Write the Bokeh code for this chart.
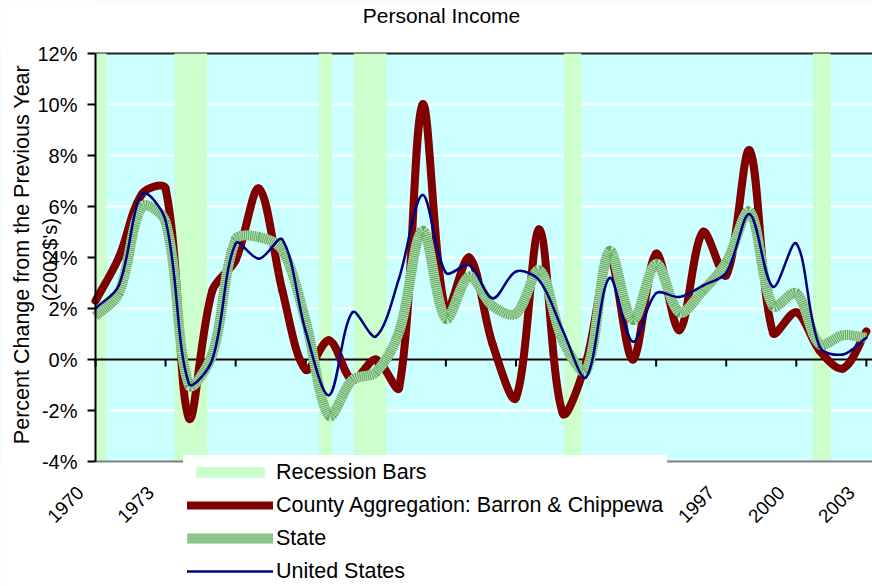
import numpy as np
from math import pi

from bokeh.plotting import figure
from bokeh.models import (ColumnDataSource, FixedTicker, Label, Legend,
                          LegendItem, PrintfTickFormatter, Range1d)
from bokeh.embed import file_html
from bokeh.resources import INLINE

# ---- data: annual percent change in personal income (2002 dollars) ----
years = list(range(1970, 2004))

county = [2.3, 4.0, 6.5, 6.7, -2.3, 2.7, 3.9, 6.7, 2.7, -0.4,
          0.75, -0.8, 0.0, -1.1, 10.0, 1.9, 4.0, 0.6, -1.5, 5.1,
          -2.1, -0.1, 4.0, 0.0, 4.15, 1.15, 5.0, 3.3, 8.2, 1.05,
          1.85, 0.35, -0.35, 1.1]

state = [1.7, 2.6, 6.0, 5.4, -1.0, 0.2, 4.7, 4.8, 4.3, 1.5,
         -2.2, -0.8, -0.5, 1.1, 5.05, 1.6, 3.25, 2.1, 1.8, 3.5,
         0.75, -0.45, 4.25, 1.55, 3.75, 1.85, 2.7, 3.8, 5.8, 2.1,
         2.6, 0.6, 0.95, 0.85]

united_states = [2.0, 2.9, 6.5, 5.45, -0.95, 0.0, 4.55, 3.95, 4.7, 1.1,
                 -1.4, 1.85, 0.9, 3.2, 6.45, 3.4, 3.7, 2.4, 3.45, 3.1,
                 1.15, -0.7, 3.2, 0.7, 2.6, 2.45, 2.9, 3.4, 5.7, 2.85,
                 4.55, 0.5, 0.2, 0.85]

recession_start = [1970.0, 1973.38, 1979.56, 1981.06, 1990.05, 2000.71]
recession_end = [1970.47, 1974.78, 1980.13, 1982.46, 1990.80, 2001.47]

y_ticks = [-4, -2, 0, 2, 4, 6, 8, 10, 12]
x_ticks = [1970, 1973, 1976, 1979, 1982, 1985, 1988, 1991, 1994, 1997, 2000, 2003]
x_tick_labels = ["1970", "1973", "1976", "1979", "1982", "1985",
                 "1988", "1991", "1994", "1997", "2000", "2003"]

# ---- canvas geometry (pixels) ----
W, H = 872, 586
LEFT, TOP, RIGHT, BOTTOM = 95, 53, 872, 461   # edges of the plot area
PPX = 23.36                                    # pixels per year
X0 = 1970.0
X1 = X0 + (RIGHT - LEFT) / PPX
Y0, Y1 = -4.0, 12.0
PPY = (BOTTOM - TOP) / (Y1 - Y0)               # pixels per percentage point


def dx(px):
    return X0 + (px - LEFT) / PPX


def dy(py):
    return Y1 - (py - TOP) / PPY


FONT = "Liberation Sans"

# the frame spans the whole canvas; the plot area is drawn inside it
p = figure(width=W, height=H, x_range=Range1d(dx(0), dx(W)),
           y_range=Range1d(dy(H), dy(0)), output_backend="svg",
           toolbar_location=None, min_border=0)
p.title.visible = False
p.outline_line_color = None
p.border_fill_color = "white"
p.background_fill_color = "#CCFFFF"

# y axis standing on the 1970 edge of the plot area
yax = p.yaxis[0]
yax.fixed_location = X0
yax.bounds = (Y0, Y1)
yax.ticker = FixedTicker(ticks=y_ticks)
yax.formatter = PrintfTickFormatter(format="%d%%")
yax.major_label_text_font = FONT
yax.major_label_text_font_size = "20px"
yax.major_label_text_color = "black"
yax.major_label_standoff = 10
yax.major_tick_out = 8
yax.major_tick_in = 0
yax.minor_tick_out = 0
yax.minor_tick_in = 0
yax.axis_line_width = 2
yax.axis_line_color = "black"
yax.major_tick_line_width = 2
yax.major_tick_line_color = "black"

# year labels hang off the bottom edge, set slightly left of each tick
LABEL_SHIFT = 15 / PPX
p.extra_x_ranges = {"labels": Range1d(dx(0) + LABEL_SHIFT, dx(W) + LABEL_SHIFT)}
xax = p.xaxis[0]
xax.x_range_name = "labels"
xax.fixed_location = Y0
xax.bounds = (X0 + LABEL_SHIFT, X1 + LABEL_SHIFT)
xax.ticker = FixedTicker(ticks=x_ticks)
xax.major_label_overrides = dict(zip(x_ticks, x_tick_labels))
xax.major_label_orientation = pi / 4
xax.major_label_text_font = FONT
xax.major_label_text_font_size = "19px"
xax.major_label_text_color = "black"
xax.major_label_standoff = 28
xax.major_tick_out = 0
xax.major_tick_in = 0
xax.minor_tick_out = 0
xax.minor_tick_in = 0
xax.axis_line_color = "#808080"
xax.axis_line_width = 2

p.xgrid.visible = False
p.ygrid.ticker = FixedTicker(ticks=y_ticks[1:-1])
p.ygrid.grid_line_color = "white"
p.ygrid.grid_line_width = 2

# white margins around the plot area
p.quad(left=[dx(0), dx(0), dx(0)], right=[dx(W), dx(W), X0],
       bottom=[Y1, dy(H), dy(H)], top=[dy(0), Y0, dy(0)],
       fill_color="white", line_color=None)

# top edge of the plot area, beneath the recession shading
p.segment(x0=[X0], y0=[Y1], x1=[X1], y1=[Y1], line_color="#222222", line_width=2)

# recession shading
bars = p.quad(left=recession_start, right=recession_end, bottom=Y0, top=Y1,
              fill_color="#CCFFCC", line_color=None)

# zero line with its tick marks
p.segment(x0=[X0], y0=[0], x1=[X1], y1=[0], line_color="black", line_width=2)
p.segment(x0=x_ticks, y0=[0] * len(x_ticks), x1=x_ticks,
          y1=[-7 / PPY] * len(x_ticks), line_color="black", line_width=2)


def smooth_source(xs, ys, tension=1 / 3):
    """Cubic Bezier pieces through consecutive points; the handles follow the
    neighbour-to-neighbour direction, scaled by the adjacent segment lengths
    measured on screen."""
    x = np.asarray(xs, float) * PPX
    y = np.asarray(ys, float) * PPY
    xp = np.concatenate([[x[0]], x, [x[-1]]])
    yp = np.concatenate([[y[0]], y, [y[-1]]])
    tx = xp[2:] - xp[:-2]
    ty = yp[2:] - yp[:-2]
    seg = np.hypot(np.diff(x), np.diff(y))
    d_prev = np.concatenate([[0.0], seg])
    d_next = np.concatenate([seg, [0.0]])
    tot = d_prev + d_next
    f_in = tension * d_prev / tot
    f_out = tension * d_next / tot
    out_x, out_y = x + f_out * tx, y + f_out * ty
    in_x, in_y = x - f_in * tx, y - f_in * ty
    return ColumnDataSource(dict(
        x0=x[:-1] / PPX, y0=y[:-1] / PPY, x1=x[1:] / PPX, y1=y[1:] / PPY,
        cx0=out_x[:-1] / PPX, cy0=out_y[:-1] / PPY,
        cx1=in_x[1:] / PPX, cy1=in_y[1:] / PPY,
    ))


def curve(src, color, width, cap, dash="solid"):
    return p.bezier(x0="x0", y0="y0", x1="x1", y1="y1",
                    cx0="cx0", cy0="cy0", cx1="cx1", cy1="cy1",
                    source=src, line_color=color, line_width=width,
                    line_cap=cap, line_dash=dash)


county_r = curve(smooth_source(years, county), "#800000", 8, "round")
state_src = smooth_source(years, state)
state_base = curve(state_src, "#B9E2B9", 10, "butt")
state_dots = curve(state_src, "#5FA85F", 10, "butt", dash="1 1")
us_r = curve(smooth_source(years, united_states), "#000080", 2.5, "round")

# title and axis titles
p.add_layout(Label(x=dx(441), y=dy(15), text="Personal Income",
                   text_align="center", text_baseline="middle",
                   text_font=FONT, text_font_size="21px", text_color="black"))
p.add_layout(Label(x=dx(21.5), y=dy(254), text="Percent Change from the Previous Year",
                   angle=pi / 2, text_align="center", text_baseline="middle",
                   text_font=FONT, text_font_size="21.5px", text_color="black"))
p.add_layout(Label(x=dx(49), y=dy(259), text="(2002$'s)",
                   angle=pi / 2, text_align="center", text_baseline="middle",
                   text_font=FONT, text_font_size="20px", text_color="black"))

legend = Legend(items=[
    LegendItem(label="Recession Bars", renderers=[bars]),
    LegendItem(label="County Aggregation: Barron & Chippewa", renderers=[county_r]),
    LegendItem(label="State", renderers=[state_base, state_dots]),
    LegendItem(label="United States", renderers=[us_r]),
], location=(183, -2), background_fill_color="white", background_fill_alpha=1.0,
    border_line_alpha=0, label_text_font=FONT, label_text_font_size="21.5px",
    label_text_color="black", glyph_width=86, glyph_height=14, label_height=26,
    spacing=7, padding=4, margin=0, label_standoff=3)
legend.level = "overlay"
p.add_layout(legend, "center")

open("out.html", "w").write(file_html(p, INLINE))
